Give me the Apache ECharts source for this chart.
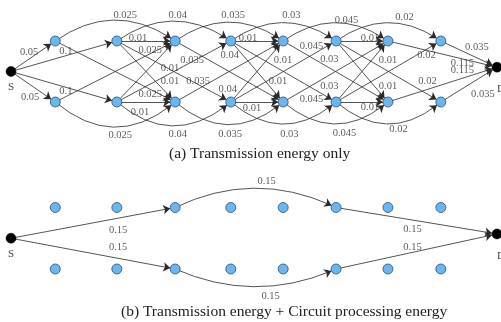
<!DOCTYPE html>
<html><head><meta charset="utf-8">
<script src="https://cdn.jsdelivr.net/npm/echarts@6/dist/echarts.min.js"></script>
<style>html,body{margin:0;padding:0;background:#fff}#c{width:501px;height:322px}</style>
</head><body><div id="c"></div>
<script>
// ---------------- data ----------------
// columns of the trellis: source S, relay columns 1..8, sink D
const columnNames = ['S', '1', '2', '3', '4', '5', '6', '7', '8', 'D'];
// relative position of each column along the route
const columnPos = [0, 0.82, 1.96, 3.04, 4.07, 5.04, 6.02, 6.98, 7.96, 9];
const upperLevel = 1, lowerLevel = 0, sourceLevel = 0.5, sinkLevel = 0.57;

// (a) transmission energy only
const startCols = [1, 2];
const startWeights = [0.05, 0.1];
const skipPairs = [[1, 3], [2, 4], [3, 5], [4, 6], [5, 7], [6, 8]];
const skipWeights = [0.025, 0.04, 0.035, 0.03, 0.045, 0.02];
const stepPairs = [[2, 3], [4, 5], [6, 7]];
const stepWeights = [0.01, 0.01, 0.01];
const endCols = [7, 8];
const endWeights = [0.115, 0.035];

// (b) transmission + circuit processing energy
const routesB = [['S', 'T3', 'T6', 'D'], ['S', 'B3', 'B6', 'D']];
const routeWeightsB = [0.15, 0.15, 0.15];

const captions = ['(a) Transmission energy only', '(b) Transmission energy + Circuit processing energy'];

// ---------------- layout / style ----------------
const labelShift = {
  'S-T1': [-4, -4], 'S-B1': [-3, 10], 'S-T2': [2, -5], 'S-B2': [2, 4],
  'T1-T3': [10, -26], 'B1-B3': [5, 33], 'T1-B3': [35, 23], 'B1-T3': [35, -21],
  'T2-T3': [-8, -3], 'B2-B3': [-6, 10], 'T2-B3': [24, -3], 'B2-T3': [24, 10],
  'T2-T4': [4, -26], 'B2-B4': [4, 32], 'B2-T4': [56, -16], 'T2-B4': [54, 18],
  'T3-T5': [4, -26], 'B3-B5': [1, 32], 'T3-B5': [-37, -11], 'B3-T5': [-31, 10],
  'T4-T5': [-9, -3], 'B4-B5': [-5, 6], 'B4-T5': [26, -11], 'T4-B5': [21, 10],
  'T4-T6': [8, -26], 'B4-B6': [6, 32], 'B4-T6': [46, -12], 'T4-B6': [46, 15],
  'T5-T7': [11, -21], 'B5-B7': [9, 31], 'T5-B7': [-24, -25], 'B5-T7': [-24, 28],
  'T6-T7': [8, -3], 'B6-B7': [8, 5], 'B6-T7': [26, -11], 'T6-B7': [26, 15],
  'T6-T8': [16, -24], 'B6-B8': [10, 27], 'B6-T8': [38, -16], 'T6-B8': [39, 10],
  'T7-D': [20, 9], 'B7-D': [20, -14], 'T8-D': [8, -7], 'B8-D': [14, 10]
};
const labelShiftB = {
  'S-T3': [25, 7], 'S-B3': [25, -6], 'T3-T6': [11, -26], 'B3-B6': [15, 27], 'T6-D': [-4, 9], 'B6-D': [-4, -4]
};
const curveA = { up: 0.35, down: -0.42 };
const curveB = { up: 0.24, down: -0.22 };
const FONT = 'Liberation Serif';

// ---------------- build ----------------
function buildNodes() {
  const nodes = [];
  const pos = {};
  columnNames.forEach((c, i) => {
    if (c === 'S' || c === 'D') {
      const v = [columnPos[i], c === 'S' ? sourceLevel : sinkLevel];
      pos[c] = v;
      nodes.push({
        name: c, value: v, symbolSize: 10,
        itemStyle: { color: '#000', borderColor: '#000', borderWidth: 0.5 },
        label: { show: true, position: 'bottom', distance: c === 'S' ? 5 : 11, offset: [c === 'S' ? 0 : 4, 0],
          formatter: c, fontFamily: FONT, fontSize: 11, color: '#444' }
      });
    } else {
      ['T', 'B'].forEach(r => {
        const v = [columnPos[i], r === 'T' ? upperLevel : lowerLevel];
        pos[r + c] = v;
        nodes.push({ name: r + c, value: v, symbolSize: 10 });
      });
    }
  });
  return { nodes, pos };
}

function addLink(list, s, t, w, curve) {
  list.push({ source: s, target: t, value: w, lineStyle: { curveness: curve } });
}

const A = buildNodes();
const linksA = [];
startCols.forEach((c, k) => {
  addLink(linksA, 'S', 'T' + c, startWeights[k], 0);
  addLink(linksA, 'S', 'B' + c, startWeights[k], 0);
});
skipPairs.forEach(([i, j], k) => {
  addLink(linksA, 'T' + i, 'T' + j, skipWeights[k], curveA.up);
  addLink(linksA, 'B' + i, 'B' + j, skipWeights[k], curveA.down);
  addLink(linksA, 'T' + i, 'B' + j, skipWeights[k], 0);
  addLink(linksA, 'B' + i, 'T' + j, skipWeights[k], 0);
});
stepPairs.forEach(([i, j], k) => {
  addLink(linksA, 'T' + i, 'T' + j, stepWeights[k], 0);
  addLink(linksA, 'B' + i, 'B' + j, stepWeights[k], 0);
  addLink(linksA, 'T' + i, 'B' + j, stepWeights[k], 0);
  addLink(linksA, 'B' + i, 'T' + j, stepWeights[k], 0);
});
endCols.forEach((c, k) => {
  addLink(linksA, 'T' + c, 'D', endWeights[k], 0);
  addLink(linksA, 'B' + c, 'D', endWeights[k], 0);
});

const B = buildNodes();
const linksB = [];
routesB.forEach((route, r) => {
  for (let k = 0; k < route.length - 1; k++) {
    const curved = k === 1 ? (r === 0 ? curveB.up : curveB.down) : 0;
    addLink(linksB, route[k], route[k + 1], routeWeightsB[k], curved);
  }
});

function edgeLabels(links, pos, shifts) {
  return links.map(l => {
    const p = pos[l.source], q = pos[l.target];
    return {
      value: [(p[0] + q[0]) / 2, (p[1] + q[1]) / 2],
      label: { offset: shifts[l.source + '-' + l.target] || [0, 0], formatter: String(l.value) }
    };
  });
}

function graphSeries(idx, nodes, links) {
  return {
    type: 'graph', coordinateSystem: 'cartesian2d', xAxisIndex: idx, yAxisIndex: idx,
    data: nodes, links: links, silent: true, z: 3,
    symbolSize: 10,
    itemStyle: { color: '#6cb6ef', borderColor: '#2b4d73', borderWidth: 0.8 },
    edgeSymbol: ['none', 'arrow'], edgeSymbolSize: [0, 7],
    lineStyle: { color: '#2a2a2a', width: 0.8, opacity: 1 },
    label: { show: false }
  };
}
function labelSeries(idx, data) {
  return {
    type: 'scatter', xAxisIndex: idx, yAxisIndex: idx, data: data, symbolSize: 0, silent: true, z: 4,
    label: { show: true, position: 'inside', fontFamily: FONT, fontSize: 10.5, color: '#333' }
  };
}

const chart = echarts.init(document.getElementById('c'), null, { renderer: 'canvas' });
chart.setOption({
  animation: false,
  backgroundColor: '#fff',
  grid: [
    { left: 11, right: 4, top: 41, height: 61 },
    { left: 11, right: 4, top: 207.5, height: 61.5 }
  ],
  xAxis: [0, 1].map(i => ({ type: 'value', gridIndex: i, min: 0, max: 9, show: false })),
  yAxis: [0, 1].map(i => ({ type: 'value', gridIndex: i, min: 0, max: 1, show: false })),
  title: [
    { text: captions[0], left: 169, top: 146, padding: 0, textStyle: { fontFamily: FONT, fontSize: 15.5, fontWeight: 'normal', color: '#222' } },
    { text: captions[1], left: 121, top: 304, padding: 0, textStyle: { fontFamily: FONT, fontSize: 15.5, fontWeight: 'normal', color: '#222' } }
  ],
  series: [
    graphSeries(0, A.nodes, linksA),
    labelSeries(0, edgeLabels(linksA, A.pos, labelShift)),
    graphSeries(1, B.nodes, linksB),
    labelSeries(1, edgeLabels(linksB, B.pos, labelShiftB))
  ]
});
</script></body></html>
